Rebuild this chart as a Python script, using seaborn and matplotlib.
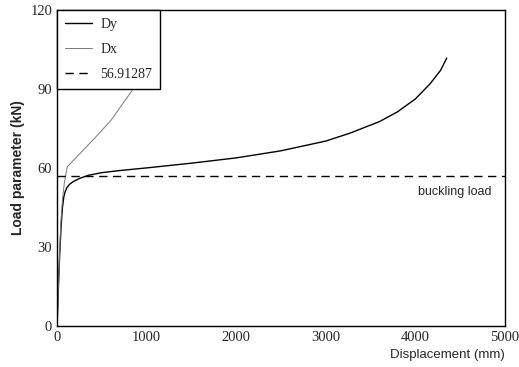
import numpy as np
import pandas as pd
import matplotlib.pyplot as plt
import seaborn as sns

# curve data
dy_x = [0, 15, 30, 45, 60, 75, 90, 110, 140, 180, 250, 350, 500, 700, 1000, 1500, 2000, 2500, 3000, 3270, 3600, 3800, 4000, 4160, 4280, 4350]
dy_y = [0, 15, 28, 38, 45, 49, 51, 52.5, 53.8, 54.8, 56, 57.2, 58.2, 59, 60, 61.8, 63.8, 66.5, 70.2, 73.2, 77.6, 81.3, 86.2, 91.8, 97, 101.7]
dx_x = [0, 20, 40, 60, 80, 95, 105, 115, 200, 400, 600, 850, 1100]
dx_y = [0, 20, 38, 48, 54, 57, 59, 60.5, 63.5, 70.6, 78, 90, 100]
buckling = 56.91287

sns.set_style("white")
plt.rcParams['font.family'] = ['Liberation Serif', 'DejaVu Serif']

fig = plt.figure(figsize=(5.19, 3.67), dpi=100)
ax = fig.add_axes([0.110, 0.112, 0.863, 0.861])

dy = pd.DataFrame({"x": dy_x, "y": dy_y})
dx = pd.DataFrame({"x": dx_x, "y": dx_y})
sns.lineplot(data=dy, x="x", y="y", ax=ax, color="black", lw=1.0, label="Dy", sort=False)
sns.lineplot(data=dx, x="x", y="y", ax=ax, color="#777777", lw=0.7, label="Dx", sort=False)
ax.plot([0, 5000], [buckling, buckling], color="black", lw=1.0, ls=(0, (6, 4)), label="56.91287")

ax.text(4850, 51, "buckling load", ha="right", va="center", fontsize=9,
        family=['Liberation Sans', 'DejaVu Sans'])

ax.set_xlim(0, 5000)
ax.set_ylim(0, 120)
ax.set_xticks([0, 1000, 2000, 3000, 4000, 5000])
ax.set_yticks([0, 30, 60, 90, 120])
ax.tick_params(labelsize=10.5, direction="in", length=3, width=0.8)
for s in ax.spines.values():
    s.set_color("black")
    s.set_linewidth(1.0)

ax.set_xlabel("Displacement (mm)", fontsize=9.5, family=['Liberation Sans', 'DejaVu Sans'], loc="right")
ax.set_ylabel("Load parameter (kN)", fontsize=10, family=['Liberation Sans', 'DejaVu Sans'], fontweight="semibold")

leg = ax.legend(loc="upper left", fontsize=10, frameon=True, fancybox=False,
                edgecolor="black", framealpha=1, borderaxespad=0, handlelength=1.9,
                handletextpad=0.6, labelspacing=0.85, borderpad=0.6)
leg.get_frame().set_linewidth(1.0)

fig.savefig("out.png", dpi=100)
